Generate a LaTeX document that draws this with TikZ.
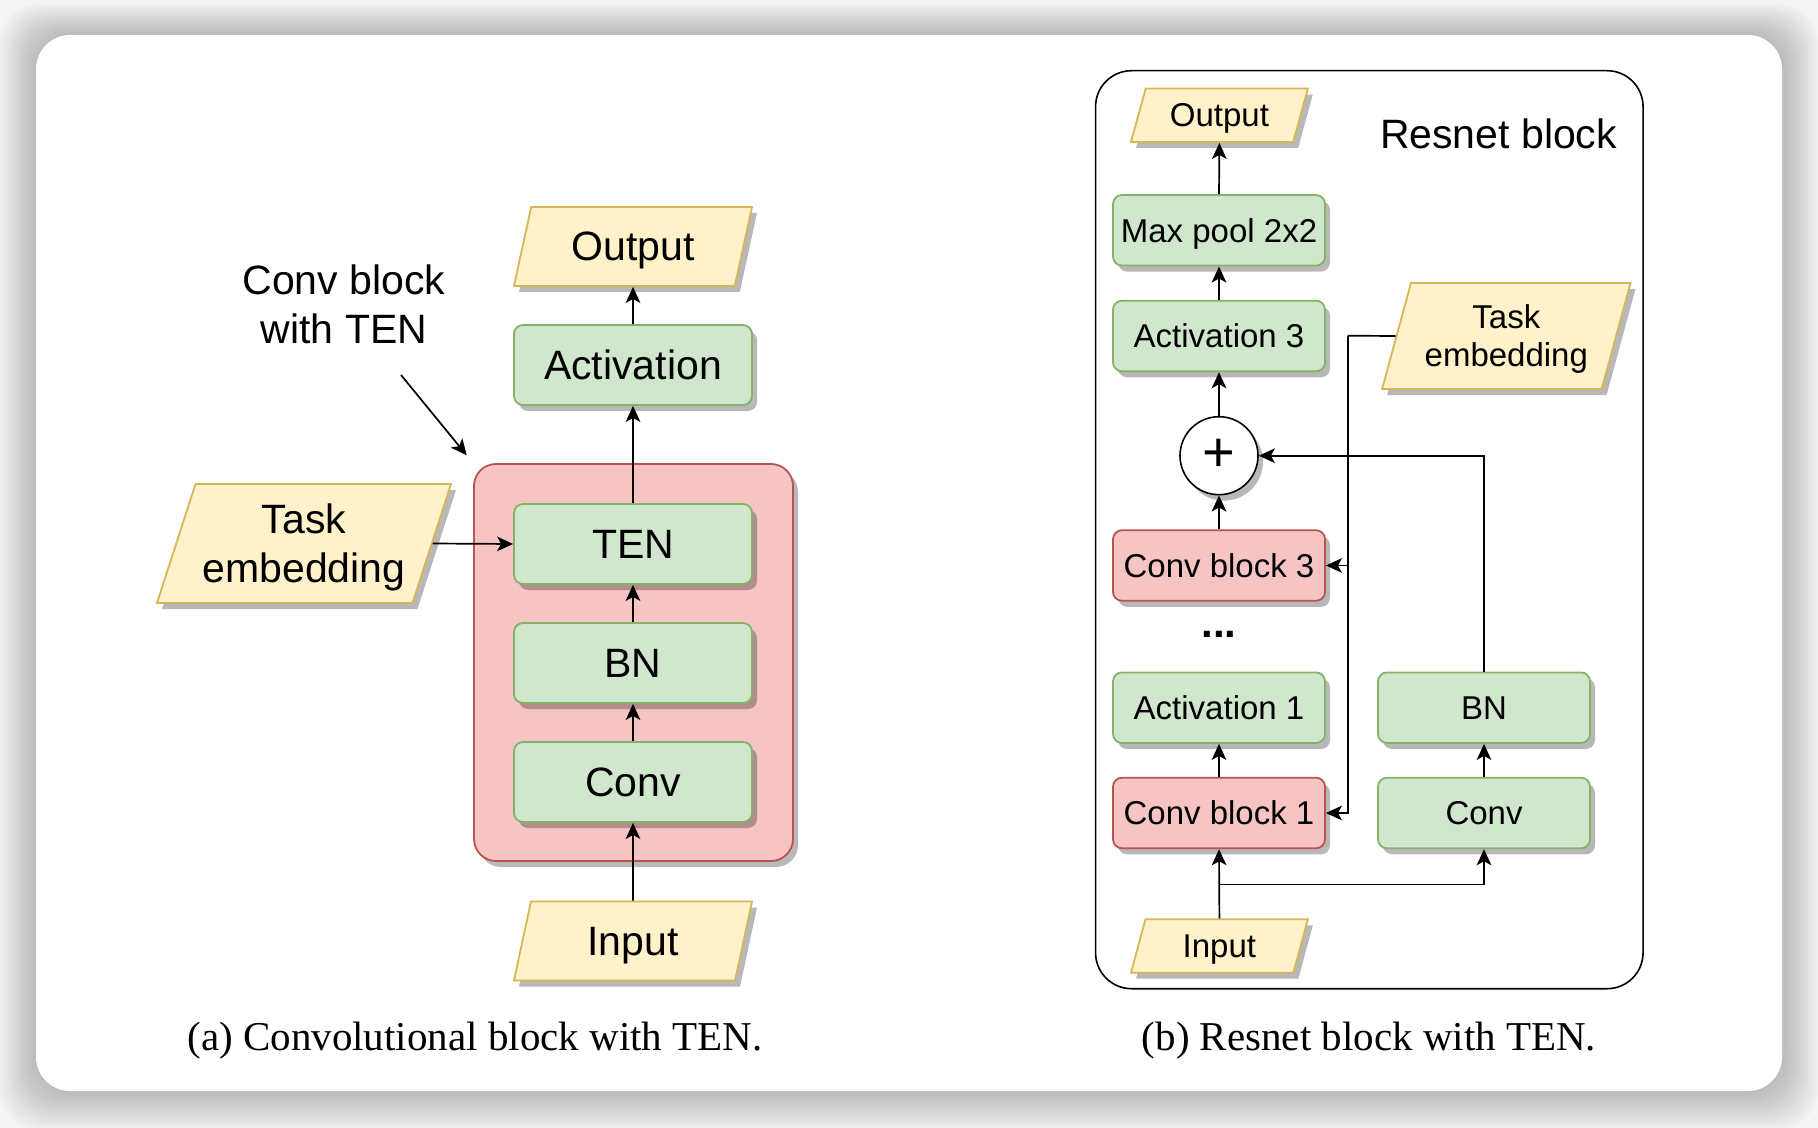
\documentclass[tikz,border=0pt]{standalone}
\usepackage{fontspec}
\setmainfont{Liberation Sans}
\newfontfamily\capfont{Liberation Serif}
\usepackage{xcolor}
\usepackage{tikz}
\usetikzlibrary{shapes.geometric,arrows.meta,positioning,calc,shadows}
\definecolor{yellowfill}{HTML}{FFF1C9}
\definecolor{yellowline}{HTML}{D6B656}
\definecolor{greenfill}{HTML}{D0E6CD}
\definecolor{greenline}{HTML}{82B366}
\definecolor{redfill}{HTML}{F6C4C3}
\definecolor{redline}{HTML}{B85450}
\definecolor{pagegray}{HTML}{F4F4F4}

\begin{document}
\begin{tikzpicture}[
    x=0.5pt, y=-0.5pt,
    bigtext/.style={font=\fontsize{20.5}{24.6}\selectfont, text depth=0pt},
    smalltext/.style={font=\fontsize{16.5}{19}\selectfont, text depth=0pt},
    castshadow/.style={drop shadow={shadow xshift=2.5pt, shadow yshift=-3pt, fill=black, opacity=0.28}},
    greenbox/.style={rectangle, draw=greenline, fill=greenfill, line width=0.9pt, rounded corners=4.5pt, inner sep=0pt, align=center, castshadow},
    bigbox/.style={greenbox, bigtext, minimum width=119pt, minimum height=40pt},
    smallbox/.style={greenbox, smalltext, minimum width=106pt, minimum height=35.3pt},
    convblock/.style={smallbox, draw=redline, fill=redfill},
    iobox/.style={trapezium, trapezium stretches body, draw=yellowline, fill=yellowfill, line width=0.9pt, inner sep=0pt, align=center, castshadow},
    caption/.style={anchor=base, font=\capfont\fontsize{20.5}{24}\selectfont},
    arrow/.style={-{Stealth[length=8pt, width=7.3pt, inset=2pt]}, line width=0.85pt}
]
\useasboundingbox (0,0) rectangle (1818,1128);

% Page and card
\fill[pagegray] (0,0) rectangle (1818,1128);
\foreach \s in {1,...,12}
    \fill[black, opacity=0.018, rounded corners=20pt] (36-\s*3,35-\s*2.6) rectangle (1782+\s*3,1091+\s*3.2);
\fill[white, rounded corners=17pt] (36,35) rectangle (1782,1091);

% (a) Convolutional block with TEN
\node[draw=redline, fill=redfill, line width=0.9pt, rounded corners=11pt, minimum width=159.5pt, minimum height=198.5pt, castshadow] (cbA) at (633.5,662.5) {};
\node[bigbox] (tenA) at (633,544) {TEN};
\node[bigbox] (bnA) at (633,663) {BN};
\node[bigbox] (convA) at (633,782) {Conv};
\node[bigbox] (actA) at (633,365) {Activation};
\node[iobox, bigtext, trapezium left angle=59, trapezium right angle=121, minimum width=119pt, minimum height=39.5pt] (outA) at (633,246.5) {Output};
\node[iobox, bigtext, trapezium left angle=59, trapezium right angle=121, minimum width=119pt, minimum height=39.5pt] (inA) at (633,941) {Input};
\node[iobox, bigtext, trapezium left angle=64, trapezium right angle=116, minimum width=147pt, minimum height=59.5pt] (taskA) at (304,543.5) {Task\\embedding};
\node[bigtext, align=center] (lblA) at (344,304) {Conv block\\with TEN};
\coordinate (lblAtail) at (401,375);

\draw[arrow] (inA.north) -- (convA.south);
\draw[arrow] (convA.north) -- (bnA.south);
\draw[arrow] (bnA.north) -- (tenA.south);
\draw[arrow] (tenA.north) -- (actA.south);
\draw[arrow] (actA.north) -- (outA.south);
\draw[arrow] (taskA.right side) -- (tenA.west);
\draw[arrow, shorten >=5pt] (lblAtail) -- (cbA.north west);

\node[caption] (capA) at (475,1050) {(a) Convolutional block with TEN.};

% (b) Resnet block with TEN
\node[draw, line width=0.8pt, rounded corners=18pt, minimum width=273.75pt, minimum height=459pt] (resB) at (1369.3,529.7) {};
\node[bigtext, anchor=base] (titleB) at (1498.5,149) {Resnet block};
\node[iobox, smalltext, trapezium left angle=57.6, trapezium right angle=122.4, minimum width=88.4pt, minimum height=26.7pt] (outB) at (1219.4,115.3) {Output};
\node[smallbox] (poolB) at (1219,230.3) {Max pool 2x2};
\node[smallbox] (act3B) at (1219,336) {Activation 3};
\node[circle, draw, fill=white, line width=0.8pt, minimum size=39pt, inner sep=0pt, castshadow, font=\fontsize{28}{28}\selectfont] (plusB) at (1219,455.7) {+};
\node[convblock] (cb3B) at (1219,565.5) {Conv block 3};
\node[anchor=base, font=\bfseries\fontsize{21}{21}\selectfont] (dotsB) at (1219,637.5) {...};
\node[smallbox] (act1B) at (1219,707.7) {Activation 1};
\node[convblock] (cb1B) at (1219,813) {Conv block 1};
\node[smallbox] (bnB) at (1484,707.7) {BN};
\node[smallbox] (convB) at (1484,813) {Conv};
\node[iobox, smalltext, trapezium left angle=57.6, trapezium right angle=122.4, minimum width=88.4pt, minimum height=26.7pt] (inB) at (1219.4,946) {Input};
\node[iobox, smalltext, trapezium left angle=65, trapezium right angle=115, minimum width=124.2pt, minimum height=53pt] (taskB) at (1506.3,336) {Task\\embedding};
\coordinate (splitB) at (1219,884.5);
\coordinate (busB) at (1347.7,335.7);

\draw[arrow] (inB.north) -- (cb1B.south);
\draw[arrow] (splitB) -| (convB.south);
\draw[arrow] (convB.north) -- (bnB.south);
\draw[arrow] (bnB.north) |- (plusB.east);
\draw[arrow] (cb1B.north) -- (act1B.south);
\draw[arrow] (cb3B.north) -- (plusB.south);
\draw[arrow] (plusB.north) -- (act3B.south);
\draw[arrow] (act3B.north) -- (poolB.south);
\draw[arrow] (poolB.north) -- (outB.south);
\draw[line width=0.85pt] (taskB.left side) -- (busB);
\draw[arrow] (busB) |- (cb3B.east);
\draw[arrow] (busB) |- (cb1B.east);

\node[caption] (capB) at (1369,1050) {(b) Resnet block with TEN.};

\end{tikzpicture}
\end{document}
